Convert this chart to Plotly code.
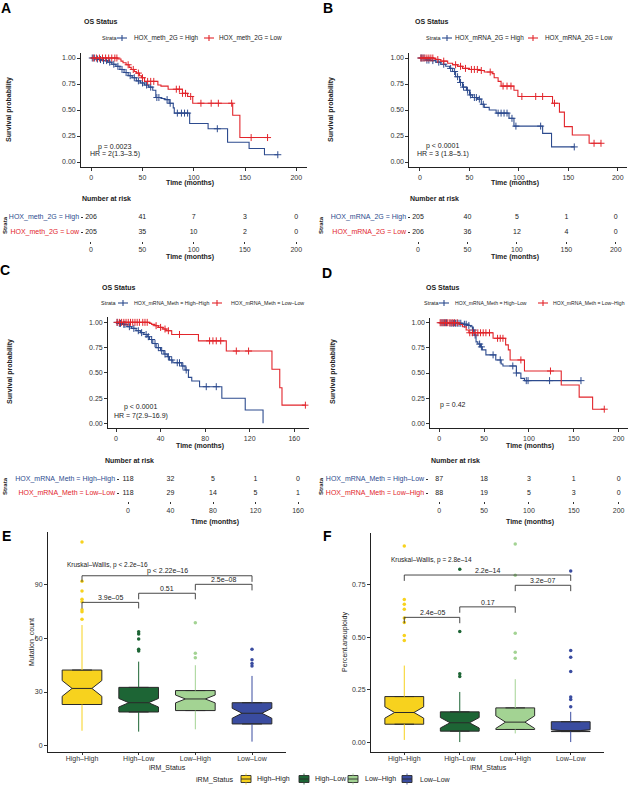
import numpy as np
import plotly.graph_objects as go

# ======================= DATA =======================
RED = '#E2252B'
BLUE = '#2D4B8E'

# ---- Panel A : HOX_meth_2G ----
A_high_t = [0, 4, 8, 12, 16, 20, 24, 28, 32, 36, 40, 44, 48, 52, 56, 60, 63, 68, 72, 76, 80, 81, 96, 114, 133, 154, 169, 182]
A_high_s = [1.0, 0.99, 0.985, 0.975, 0.96, 0.94, 0.92, 0.89, 0.86, 0.83, 0.81, 0.78, 0.76, 0.74, 0.72, 0.69, 0.62, 0.61, 0.60, 0.565, 0.52, 0.47, 0.37, 0.32, 0.19, 0.13, 0.07, 0.07]
A_high_c = [1, 3, 6, 9, 12, 15, 18, 22, 26, 30, 34, 38, 42, 46, 50, 54, 58, 64, 66, 74, 77, 84, 88, 91, 94, 123, 182]
A_low_t = [0, 26, 29, 31, 34, 37, 39, 42, 44, 47, 49, 52, 65, 68, 75, 89, 94, 99, 138, 145, 172]
A_low_s = [1.0, 0.99, 0.97, 0.955, 0.935, 0.91, 0.89, 0.87, 0.855, 0.83, 0.81, 0.775, 0.74, 0.73, 0.70, 0.66, 0.63, 0.565, 0.45, 0.235, 0.235]
A_low_c = [2, 5, 8, 11, 14, 17, 20, 23, 25, 36, 41, 46, 50, 55, 58, 61, 83, 86, 89, 92, 97, 107, 117, 124, 137, 156, 172]
A_names = ['HOX_meth_2G = High', 'HOX_meth_2G = Low']
A_risk_times = [0, 50, 100, 150, 200]
A_risk_high = [206, 41, 7, 3, 0]
A_risk_low = [205, 35, 10, 2, 0]
A_stats = ['p = 0.0023', 'HR = 2(1.3–3.5)']

# ---- Panel B : HOX_mRNA_2G ----
B_high_t = [0, 6, 11, 16, 21, 26, 30, 33, 36, 40, 43, 47, 50, 53, 58, 62, 65, 70, 77, 90, 95, 124, 133, 156]
B_high_s = [1.0, 0.98, 0.975, 0.96, 0.94, 0.92, 0.90, 0.87, 0.82, 0.765, 0.72, 0.69, 0.645, 0.62, 0.605, 0.555, 0.525, 0.50, 0.47, 0.42, 0.345, 0.275, 0.145, 0.145]
B_high_c = [1, 2, 4, 7, 9, 13, 19, 24, 31, 35, 38, 41, 44, 48, 51, 55, 57, 60, 64, 79, 82, 85, 88, 93, 97, 122, 156]
B_low_t = [0, 14, 16, 21, 28, 33, 38, 43, 50, 60, 65, 73, 75, 79, 82, 95, 99, 134, 141, 146, 154, 171, 183]
B_low_s = [1.0, 0.995, 0.985, 0.97, 0.95, 0.935, 0.92, 0.90, 0.89, 0.88, 0.865, 0.85, 0.81, 0.775, 0.73, 0.69, 0.63, 0.565, 0.48, 0.34, 0.26, 0.18, 0.18]
B_low_c = [1, 3, 5, 7, 9, 11, 13, 18, 24, 36, 41, 46, 52, 55, 58, 62, 71, 84, 88, 92, 103, 117, 124, 136, 176, 183]
B_names = ['HOX_mRNA_2G = High', 'HOX_mRNA_2G = Low']
B_risk_times = [0, 50, 100, 150, 200]
B_risk_high = [205, 40, 5, 1, 0]
B_risk_low = [206, 36, 12, 4, 0]
B_stats = ['p < 0.0001', 'HR = 3 (1.8–5.1)']

# ---- Panel C : HOX_mRNA_Meth High-High vs Low-Low ----
C_high_t = [0, 2, 5, 10, 14, 18, 22, 25, 28, 30, 33, 36, 40, 43, 46, 48, 51, 59, 62, 65, 68, 75, 95, 116, 132]
C_high_s = [1.0, 0.99, 0.98, 0.957, 0.94, 0.917, 0.898, 0.88, 0.858, 0.83, 0.79, 0.75, 0.72, 0.686, 0.66, 0.627, 0.60, 0.568, 0.528, 0.455, 0.42, 0.363, 0.248, 0.132, 0.0]
C_high_c = [1, 3, 4, 7, 8, 12, 16, 20, 23, 27, 29, 32, 35, 38, 41, 44, 47, 50, 55, 57, 60, 63, 81, 90]
C_low_t = [0, 30, 32, 35, 38, 42, 45, 50, 74, 99, 140, 147, 149, 170]
C_low_s = [1.0, 0.99, 0.98, 0.967, 0.95, 0.934, 0.917, 0.88, 0.817, 0.716, 0.535, 0.353, 0.18, 0.18]
C_low_c = [1, 3, 5, 7, 9, 11, 13, 15, 17, 19, 21, 24, 26, 28, 36, 40, 44, 47, 57, 84, 87, 90, 94, 108, 119, 170]
C_names = ['HOX_mRNA_Meth = High–High', 'HOX_mRNA_Meth = Low–Low']
C_risk_times = [0, 40, 80, 120, 160]
C_risk_high = [118, 32, 5, 1, 0]
C_risk_low = [118, 29, 14, 5, 1]
C_stats = ['p < 0.0001', 'HR = 7(2.9–16.9)']

# ---- Panel D : HOX_mRNA_Meth High-Low vs Low-High ----
D_high_t = [0, 10, 26, 32, 35, 37, 39, 41, 43, 46, 48, 52, 63, 69, 71, 86, 91, 95, 158]
D_high_s = [1.0, 0.995, 0.985, 0.973, 0.96, 0.927, 0.877, 0.81, 0.788, 0.76, 0.73, 0.68, 0.63, 0.59, 0.57, 0.50, 0.447, 0.424, 0.424]
D_high_c = [2, 4, 6, 8, 12, 14, 16, 18, 20, 22, 24, 28, 30, 33, 38, 40, 45, 47, 60, 68, 82, 86, 97, 99, 123, 158]
D_low_t = [0, 22, 26, 30, 33, 60, 74, 77, 79, 95, 136, 156, 171, 184]
D_low_s = [1.0, 0.983, 0.96, 0.927, 0.90, 0.845, 0.78, 0.73, 0.63, 0.52, 0.38, 0.26, 0.14, 0.14]
D_low_c = [1, 3, 5, 7, 9, 11, 13, 15, 17, 20, 34, 37, 40, 43, 46, 49, 52, 56, 65, 68, 71, 91, 124, 184]
D_names = ['HOX_mRNA_Meth = High–Low', 'HOX_mRNA_Meth = Low–High']
D_risk_times = [0, 50, 100, 150, 200]
D_risk_high = [87, 18, 3, 1, 0]
D_risk_low = [88, 19, 5, 3, 0]
D_stats = ['p = 0.42']

# ---- Panels E / F : boxplots by iRM_Status ----
groups = ['High–High', 'High–Low', 'Low–High', 'Low–Low']
group_colors = ['#F7D21E', '#1D6535', '#A3D393', '#3A4CA0']

E_q1 = [23.0, 18.8, 19.6, 12.1]
E_med = [32.0, 24.0, 26.1, 18.1]
E_q3 = [42.3, 32.6, 30.8, 24.0]
E_lo = [8.3, 7.8, 9.1, 2.2]
E_hi = [67.5, 47.0, 45.0, 39.0]
E_notch = [4.4, 2.4, 2.2, 2.8]
E_out = [[70.7, 75, 76, 80.6, 82, 86.6, 92, 114],
         [53, 54, 59.7, 62.5, 63.8],
         [49.2, 51.7, 68.8],
         [44.6, 46, 48, 54]]
E_pairs = [(0, 1), (1, 2), (2, 3), (0, 3)]
E_pair_labels = ['3.9e–05', '0.51', '2.5e–08', 'p < 2.22e–16']
E_kw = 'Kruskal–Wallis, p < 2.2e–16'

F_q1 = [0.085, 0.052, 0.060, 0.050]
F_med = [0.141, 0.092, 0.095, 0.055]
F_q3 = [0.217, 0.144, 0.163, 0.097]
F_lo = [0.010, 0.0, 0.041, 0.0]
F_hi = [0.365, 0.239, 0.300, 0.144]
F_notch = [0.027, 0.025, 0.030, 0.004]
F_out = [[0.484, 0.508, 0.571, 0.592, 0.634, 0.658, 0.68, 0.935],
         [0.313, 0.326, 0.527, 0.824],
         [0.40, 0.429, 0.519, 0.796, 0.945],
         [0.168, 0.203, 0.215, 0.337, 0.405, 0.437, 0.816]]
F_pairs = [(0, 1), (1, 2), (2, 3), (0, 3)]
F_pair_labels = ['2.4e–05', '0.17', '3.2e–07', '2.2e–14']
F_kw = 'Kruskal–Wallis, p = 2.8e–14'

# ======================= LAYOUT HELPERS =======================
W, H = 632, 787
FONT = 'Liberation Sans, Arial, sans-serif'
TXT = '#333333'


def dx(a, b):
    return [a / W, b / W]


def dy(top, bottom):
    return [1 - bottom / H, 1 - top / H]


def px(x):
    return x / W


def py(y):
    return 1 - y / H


def axname(n):
    return ('x' if n == 1 else f'x{n}'), ('y' if n == 1 else f'y{n}')


def laykey(n):
    return ('xaxis' if n == 1 else f'xaxis{n}'), ('yaxis' if n == 1 else f'yaxis{n}')


def step_at(t, s, c):
    idx = np.searchsorted(np.array(t), np.array(c), side='right') - 1
    return np.array(s)[idx]


fig = go.Figure()
layout = dict(
    width=W, height=H, margin=dict(l=0, r=0, t=0, b=0, autoexpand=False),
    plot_bgcolor='white', paper_bgcolor='white',
    font=dict(family=FONT, size=7, color=TXT),
    boxmode='overlay', showlegend=False,
)
annotations = []
shapes = []


def ann(text, x, y, size=7, bold=False, angle=0, xanchor='center', yanchor='middle', color='#222222',
        xref='paper', yref='paper'):
    annotations.append(dict(
        text=f'<b>{text}</b>' if bold else text, x=x, y=y, xref=xref, yref=yref,
        showarrow=False, textangle=angle, xanchor=xanchor, yanchor=yanchor,
        font=dict(size=size, color=color, family=FONT)))


def pline(x0, y0, x1, y1, color, width=1.0):
    shapes.append(dict(type='line', xref='paper', yref='paper', x0=px(x0), y0=py(y0), x1=px(x1), y1=py(y1),
                       line=dict(color=color, width=width)))


axis_base = dict(showgrid=False, zeroline=False, showline=True, linecolor='#222222', linewidth=0.8,
                 ticks='outside', ticklen=3, tickwidth=0.8, tickcolor='#333333', automargin=False,
                 tickfont=dict(size=7, color=TXT, family=FONT))


def km_legend(names, y, strata_x, item_xs, size):
    ann('Strata', px(strata_x), py(y), size=5.5, xanchor='left')
    for (cx, tx), col, name in zip(item_xs, [BLUE, RED], names):
        pline(cx - 5, y, cx + 5, y, col, 1.1)
        pline(cx, y - 3, cx, y + 3, col, 1.1)
        ann(name, px(tx), py(y), size=size, xanchor='left')


def add_km(n, tn, hi, lo, names, rtimes, rhi, rlo, stats, dtick,
           kmx, kmxr, kmy, tabx, tabxr, taby, stat_x, stat_y, leg_y, leg_strata_x, leg_items, leg_size,
           letter, letter_xy, title_xy, surv_xy, strata_xy, nar_xy, time1_y, time2_y, time1_x, time2_x):
    xa, ya = axname(n)
    xk, yk = laykey(n)
    for (t, s, c), col in zip([hi, lo], [BLUE, RED]):
        fig.add_trace(go.Scatter(x=t, y=s, mode='lines', line=dict(shape='hv', color=col, width=1.1),
                                 xaxis=xa, yaxis=ya, hoverinfo='skip'))
        fig.add_trace(go.Scatter(x=c, y=step_at(t, s, c), mode='markers',
                                 marker=dict(symbol='cross-thin', size=5, color=col, line=dict(color=col, width=1)),
                                 xaxis=xa, yaxis=ya, hoverinfo='skip'))
    layout[xk] = dict(axis_base, domain=dx(*kmx), range=list(kmxr), anchor=ya, dtick=dtick, tick0=0)
    layout[yk] = dict(axis_base, domain=dy(*kmy), range=[-0.05, 1.05], anchor=xa,
                      tickvals=[0, 0.25, 0.5, 0.75, 1.0], tickformat='.2f')
    for txt, yy in zip(stats, stat_y):
        ann(txt, stat_x, yy, size=7, xref=xa, yref=ya, color='#222222')
    # risk table
    txa, tya = axname(tn)
    txk, tyk = laykey(tn)
    fig.add_trace(go.Scatter(x=list(rtimes) + list(rtimes), y=[2] * len(rtimes) + [1] * len(rtimes),
                             text=[str(v) for v in rhi] + [str(v) for v in rlo], mode='text',
                             textfont=dict(size=7, color='#222222', family=FONT),
                             xaxis=txa, yaxis=tya, hoverinfo='skip'))
    layout[txk] = dict(axis_base, domain=dx(*tabx), range=list(tabxr), anchor=tya, showline=False,
                       tickvals=list(rtimes), ticklen=2)
    layout[tyk] = dict(axis_base, domain=dy(*taby), range=[0.4, 2.6], anchor=txa, showline=False,
                       tickvals=[1, 2], ticklen=2,
                       ticktext=[f'<span style="color:{RED}">{names[1]}</span>',
                                 f'<span style="color:{BLUE}">{names[0]}</span>'])
    km_legend(names, leg_y, leg_strata_x, leg_items, leg_size)
    ann(letter, px(letter_xy[0]), py(letter_xy[1]), size=14, bold=True, color='black')
    ann('OS Status', px(title_xy[0]), py(title_xy[1]), size=7, bold=True, xanchor='left', color='#222222')
    ann('Survival probability', px(surv_xy[0]), py(surv_xy[1]), size=7, bold=True, angle=-90)
    ann('Strata', px(strata_xy[0]), py(strata_xy[1]), size=6, bold=True, angle=-90)
    ann('Number at risk', px(nar_xy[0]), py(nar_xy[1]), size=7, bold=True, xanchor='left')
    ann('Time (months)', px(time1_x), py(time1_y), size=7, bold=True)
    ann('Time (months)', px(time2_x), py(time2_y), size=7, bold=True)


add_km(1, 5, (A_high_t, A_high_s, A_high_c), (A_low_t, A_low_s, A_low_c), A_names,
       A_risk_times, A_risk_high, A_risk_low, A_stats, 50,
       (81, 306.5), (-10, 210), (52.8, 167.2), (83.5, 306.5), (-7.3, 210), (208, 241),
       23, [0.144, 0.074], 38, 100, [(122, 132), (209, 217)], 6.4,
       'A', (6, 8), (82, 22), (9, 110), (5, 225), (80, 199), 183, 257, 190, 190)

add_km(2, 6, (B_high_t, B_high_s, B_high_c), (B_low_t, B_low_s, B_low_c), B_names,
       B_risk_times, B_risk_high, B_risk_low, B_stats, 50,
       (409.3, 627), (-10.8, 209.3), (52.8, 167.2), (410.5, 627), (-7.6, 211.3), (208, 241),
       23, [0.157, 0.077], 38, 424, [(447, 453), (533, 543)], 6.4,
       'B', (328, 8), (413, 22), (331, 110), (321, 225), (408, 199), 183, 257, 515, 515)

add_km(3, 7, (C_high_t, C_high_s, C_high_c), (C_low_t, C_low_s, C_low_c), C_names,
       C_risk_times, C_risk_high, C_risk_low, C_stats, 40,
       (108, 308.5), (-7.2, 172.8), (317.3, 428.4), (119.5, 315), (-8, 176), (470.6, 501.4),
       22.4, [0.158, 0.072], 303, 99, [(123, 132), (217, 229)], 5.3,
       'C', (5, 270), (100, 287), (10, 372), (5, 486), (103, 460), 446, 522, 200, 215)

add_km(4, 8, (D_high_t, D_high_s, D_high_c), (D_low_t, D_low_s, D_low_c), D_names,
       D_risk_times, D_risk_high, D_risk_low, D_stats, 50,
       (430.3, 627.6), (-10, 210), (317.7, 428.3), (428.5, 627.6), (-12, 210), (470.6, 501.4),
       15.8, [0.18], 303, 422, [(444, 453), (543, 551)], 5.1,
       'D', (327, 273), (424, 287), (333, 372), (321, 486), (429, 460), 446, 522, 530, 530)


# ======================= BOX PANELS =======================
def add_box(n, q1, med, q3, lo, hi, notch, outs, pairs, labels, kw, ytick, yfmt, yr, xdom, ydom,
            br_y, br_tick, kw_xy, ytitle, ytitle_x, letter, letter_xy, xtitle_x):
    xa, ya = axname(n)
    xk, yk = laykey(n)
    for i, g in enumerate(groups):
        fig.add_trace(go.Scatter(x=[g, g, None, g, g], y=[lo[i], q1[i], None, q3[i], hi[i]], mode='lines',
                                 line=dict(color=group_colors[i], width=1), xaxis=xa, yaxis=ya,
                                 hoverinfo='skip'))
    for i, g in enumerate(groups):
        fig.add_trace(go.Box(x=[g], q1=[q1[i]], median=[med[i]], q3=[q3[i]], lowerfence=[q1[i]],
                             upperfence=[q3[i]], notched=True, notchspan=[notch[i]], notchwidth=0.25,
                             fillcolor=group_colors[i], line=dict(color='#2a2a2a', width=1), width=0.7,
                             boxpoints=False, name=g, xaxis=xa, yaxis=ya, hoverinfo='skip'))
    for i, g in enumerate(groups):
        fig.add_trace(go.Scatter(x=[g] * len(outs[i]), y=outs[i], mode='markers',
                                 marker=dict(size=3.5, color=group_colors[i]), xaxis=xa, yaxis=ya,
                                 hoverinfo='skip'))
    layout[xk] = dict(axis_base, domain=dx(*xdom), range=[-0.6, 3.6], anchor=ya, type='category',
                      categoryorder='array', categoryarray=groups, linewidth=1, ticklen=2,
                      ticklabelstandoff=-2)
    layout[yk] = dict(axis_base, domain=dy(*ydom), range=list(yr), anchor=xa, tickvals=ytick,
                      tickformat=yfmt, linewidth=1)
    for (a, b), lab, yy in zip(pairs, labels, br_y):
        for (x0, y0, x1, y1) in [(a, yy - br_tick, a, yy), (a, yy, b, yy), (b, yy, b, yy - br_tick)]:
            shapes.append(dict(type='line', xref=xa, yref=ya, x0=x0, y0=y0, x1=x1, y1=y1,
                               line=dict(color='#333333', width=0.9)))
        annotations.append(dict(text=lab, x=(a + b) / 2, y=yy, xref=xa, yref=ya, showarrow=False,
                                xanchor='center', yanchor='bottom', yshift=-1,
                                font=dict(size=7, color='#222222', family=FONT)))
    annotations.append(dict(text=kw, x=kw_xy[0], y=kw_xy[1], xref=xa, yref=ya, showarrow=False,
                            xanchor='left', yanchor='middle', font=dict(size=6.5, color='#222222', family=FONT)))
    ann(ytitle, px(ytitle_x), py(642), size=7, angle=-90, color='#222222')
    ann('iRM_Status', px(xtitle_x), py(767.5), size=7, color='#222222')
    ann(letter, px(letter_xy[0]), py(letter_xy[1]), size=14, bold=True, color='black')


add_box(9, E_q1, E_med, E_q3, E_lo, E_hi, E_notch, E_out, E_pairs, E_pair_labels, E_kw,
        [0, 30, 60, 90], 'd', (-3.6, 119.6), (48, 286), (532, 752),
        [80.2, 85.3, 90.3, 95.1], 3.4, (-0.3, 101), 'Mutation_count', 32, 'E', (6, 536), 167)

add_box(10, F_q1, F_med, F_q3, F_lo, F_hi, F_notch, F_out, F_pairs, F_pair_labels, F_kw,
        [0, 0.25, 0.5, 0.75], '.2f', (-0.0475, 0.9975), (371, 604), (533, 752),
        [0.595, 0.645, 0.748, 0.797], 0.028, (-0.27, 0.869), 'Percent.aneuploidy', 345, 'F', (327, 536), 488)

# ---- shared fill legend for E/F ----
LEG_Y = 779
ann('iRM_Status', px(194), py(LEG_Y), size=7.2, xanchor='left')
for g, col, (ix, tx) in zip(groups, group_colors, [(241, 255), (299, 313), (348, 363), (402, 418)]):
    shapes.append(dict(type='rect', xref='paper', yref='paper', x0=px(ix), x1=px(ix + 10),
                       y0=py(LEG_Y + 3.5), y1=py(LEG_Y - 3.5), fillcolor=col,
                       line=dict(color='#2a2a2a', width=0.9)))
    pline(ix, LEG_Y, ix + 10, LEG_Y, '#2a2a2a', 0.9)
    pline(ix + 5, LEG_Y - 5.5, ix + 5, LEG_Y - 3.5, col, 0.9)
    pline(ix + 5, LEG_Y + 3.5, ix + 5, LEG_Y + 5.5, col, 0.9)
    ann(g, px(tx), py(LEG_Y), size=7, xanchor='left')

layout['annotations'] = annotations
layout['shapes'] = shapes
fig.update_layout(**layout)
fig.write_html('out.html', config={'displayModeBar': False},
               post_script="document.body.style.margin='0px';document.body.style.overflow='hidden';")
